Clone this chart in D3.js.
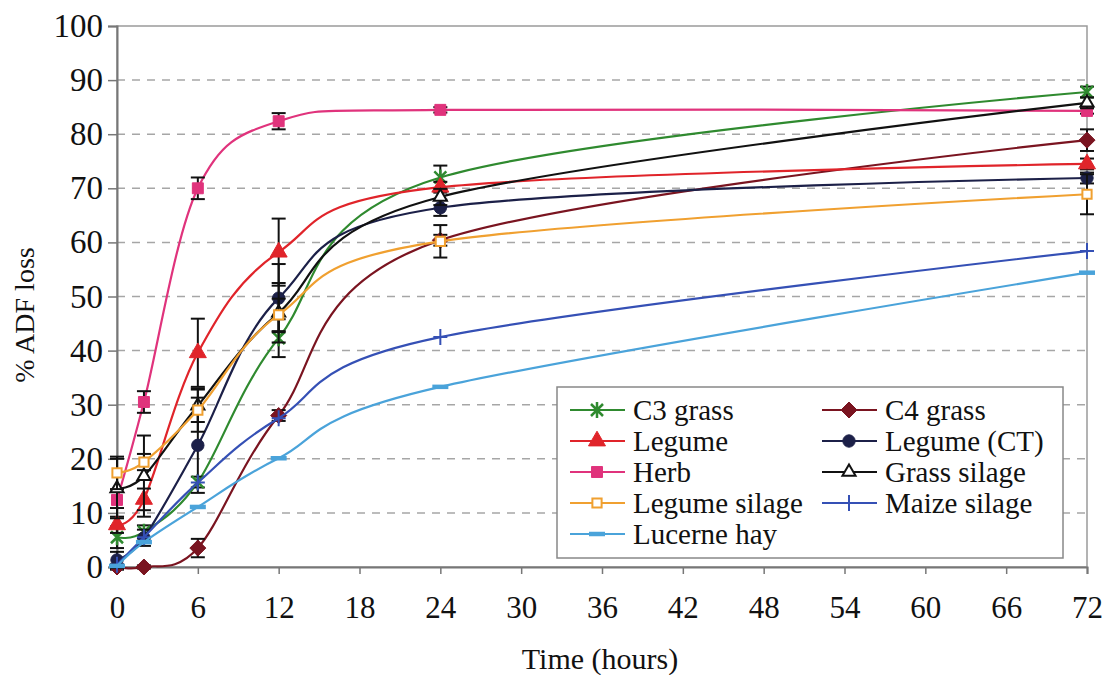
<!DOCTYPE html>
<html>
<head>
<meta charset="utf-8">
<script src="https://d3js.org/d3.v7.min.js"></script>
<style>
  body { margin: 0; background: #fff; }
  text { font-family: "Liberation Serif", "Times New Roman", serif; fill: #111; }
</style>
</head>
<body>
<svg id="chart" width="1105" height="675"></svg>
<script>
// sampling times (hours) and axis ticks
var times = [0, 2, 6, 12, 24, 72];
var xTicks = [0, 6, 12, 18, 24, 30, 36, 42, 48, 54, 60, 66, 72];
var yTicks = [0, 10, 20, 30, 40, 50, 60, 70, 80, 90, 100];

// series values (% ADF loss)
var c3Grass      = [5.5, 6.5, 15.7, 42.3, 72.0, 87.8];
var c4Grass      = [0.0, 0.0, 3.5, 28.0, 60.4, 78.9];
var legume       = [7.8, 12.5, 39.6, 58.2, 70.2, 74.5];
var legumeCT     = [1.3, 5.4, 22.5, 49.7, 66.4, 71.9];
var herb         = [12.4, 30.5, 70.0, 82.4, 84.5, 84.3];
var grassSilage  = [14.5, 16.8, 29.8, 47.0, 68.4, 85.8];
var legumeSilage = [17.4, 19.4, 29.0, 46.6, 60.2, 68.9];
var maizeSilage  = [0.4, 5.5, 15.6, 27.5, 42.5, 58.4];
var lucerneHay   = [0.2, 4.6, 11.1, 20.1, 33.3, 54.4];

// error bar half-widths
var c3GrassErr      = [2.0, 1.2, 1.0, 3.5, 2.2, 1.0];
var c4GrassErr      = [0.5, 0.3, 1.7, 1.0, 1.0, 2.0];
var legumeErr       = [1.5, 2.0, 6.3, 6.2, 1.0, 1.0];
var legumeCTErr     = [1.5, 1.5, 8.8, 6.3, 1.5, 1.0];
var herbErr         = [1.5, 2.0, 2.0, 1.5, 0.5, 0.5];
var grassSilageErr  = [5.5, 7.5, 3.0, 5.5, 1.5, 1.0];
var legumeSilageErr = [3.0, 1.5, 4.0, 3.0, 3.0, 3.7];
var maizeSilageErr  = [0, 0, 0, 0, 0, 0];
var lucerneHayErr   = [0, 0, 0, 0, 0, 0];

var seriesNames = ["C3 grass", "C4 grass", "Legume", "Legume (CT)", "Herb",
                   "Grass silage", "Legume silage", "Maize silage", "Lucerne hay"];

// table built from the arrays above
var series = [
  {name: seriesNames[0], values: c3Grass, err: c3GrassErr, color: "#2f8a2f", marker: "star"},
  {name: seriesNames[1], values: c4Grass, err: c4GrassErr, color: "#7a1420", marker: "diamond"},
  {name: seriesNames[2], values: legume, err: legumeErr, color: "#e0242a", marker: "triangle"},
  {name: seriesNames[3], values: legumeCT, err: legumeCTErr, color: "#1c2048", marker: "circle"},
  {name: seriesNames[4], values: herb, err: herbErr, color: "#e0337c", marker: "square"},
  {name: seriesNames[5], values: grassSilage, err: grassSilageErr, color: "#111111", marker: "triangleOpen"},
  {name: seriesNames[6], values: legumeSilage, err: legumeSilageErr, color: "#f0a030", marker: "squareOpen"},
  {name: seriesNames[7], values: maizeSilage, err: maizeSilageErr, color: "#3550b5", marker: "plus"},
  {name: seriesNames[8], values: lucerneHay, err: lucerneHayErr, color: "#4aa3da", marker: "dash"}
];

var plotLeft = 117, plotRight = 1087, plotTop = 26, plotBottom = 567;
var x = d3.scaleLinear().domain([0, 72]).range([plotLeft, plotRight]);
var y = d3.scaleLinear().domain([0, 100]).range([plotBottom, plotTop]);

var svg = d3.select("#chart");

// plot area frame
svg.append("rect")
  .attr("x", plotLeft).attr("y", plotTop)
  .attr("width", plotRight - plotLeft).attr("height", plotBottom - plotTop)
  .attr("fill", "none").attr("stroke", "#9a9a9a").attr("stroke-width", 1.5);

// dashed gridlines
svg.append("g").selectAll("line")
  .data(yTicks.filter(function(d) { return d > 0 && d < 100; }))
  .enter().append("line")
    .attr("x1", plotLeft).attr("x2", plotRight)
    .attr("y1", function(d) { return y(d); })
    .attr("y2", function(d) { return y(d); })
    .attr("stroke", "#a6a6a6").attr("stroke-width", 1.5)
    .attr("stroke-dasharray", "8,7");

// y axis
var yAxis = svg.append("g")
  .attr("transform", "translate(" + plotLeft + ",0)")
  .call(d3.axisLeft(y).tickValues(yTicks).tickSize(9).tickPadding(5));
yAxis.selectAll("text").style("font-size", "33px").style("font-family", "Liberation Serif");

// x axis
var xAxis = svg.append("g")
  .attr("transform", "translate(0," + plotBottom + ")")
  .call(d3.axisBottom(x).tickValues(xTicks).tickSize(7).tickPadding(22));
xAxis.selectAll("text").style("font-size", "31px").style("font-family", "Liberation Serif");

svg.selectAll(".domain").attr("stroke", "#777").attr("stroke-width", 2);
svg.selectAll(".tick line").attr("stroke", "#777").attr("stroke-width", 1.5);

// axis titles
svg.append("text")
  .attr("x", 600).attr("y", 669)
  .attr("text-anchor", "middle")
  .style("font-size", "30px")
  .text("Time (hours)");

svg.append("text")
  .attr("transform", "translate(34,315) rotate(-90)")
  .attr("text-anchor", "middle")
  .style("font-size", "28px")
  .text("% ADF loss");

// marker helper
function drawMarker(g, type, color) {
  if (type == "star") {
    g.append("path").attr("d", "M-6,-6L6,6M-6,6L6,-6M0,-8L0,8")
      .attr("stroke", color).attr("stroke-width", 2.5).attr("fill", "none");
  } else if (type == "plus") {
    g.append("path").attr("d", "M-7,0L7,0M0,-8L0,8")
      .attr("stroke", color).attr("stroke-width", 2).attr("fill", "none");
  } else if (type == "dash") {
    g.append("path").attr("d", "M-8,0L8,0")
      .attr("stroke", color).attr("stroke-width", 4.5).attr("fill", "none");
  } else if (type == "diamond") {
    g.append("path").attr("d", "M0,-8L8,0L0,8L-8,0Z")
      .attr("fill", color).attr("stroke", color).attr("stroke-width", 1);
  } else if (type == "triangleOpen") {
    g.append("path").attr("d", d3.symbol().type(d3.symbolTriangle).size(75)())
      .attr("fill", "#fff").attr("stroke", color).attr("stroke-width", 2);
  } else if (type == "squareOpen") {
    g.append("path").attr("d", d3.symbol().type(d3.symbolSquare).size(85)())
      .attr("fill", "#fff").attr("stroke", color).attr("stroke-width", 2);
  } else {
    var sym = {triangle: d3.symbolTriangle, circle: d3.symbolCircle, square: d3.symbolSquare}[type];
    var size = type == "triangle" ? 125 : 120;
    g.append("path").attr("d", d3.symbol().type(sym).size(size)())
      .attr("fill", color).attr("stroke", color).attr("stroke-width", 1);
  }
}

// smoothed lines like the spreadsheet
var line = d3.line()
  .x(function(d) { return x(d.t); })
  .y(function(d) { return y(d.v); })
  .curve(d3.curveCardinal.tension(0));

series.forEach(function(s) {
  var pts = times.map(function(t, i) { return {t: t, v: s.values[i], e: s.err[i]}; });
  var g = svg.append("g");

  g.append("path")
    .datum(pts)
    .attr("d", line)
    .attr("fill", "none")
    .attr("stroke", s.color)
    .attr("stroke-width", 2.2);

  // error bars
  pts.filter(function(d) { return d.e > 0; }).forEach(function(d) {
    var px = x(d.t);
    var eb = g.append("g").attr("stroke", "#111").attr("stroke-width", 2);
    eb.append("line").attr("x1", px).attr("x2", px)
      .attr("y1", y(d.v - d.e)).attr("y2", y(d.v + d.e));
    eb.append("line").attr("x1", px - 7).attr("x2", px + 7)
      .attr("y1", y(d.v - d.e)).attr("y2", y(d.v - d.e));
    eb.append("line").attr("x1", px - 7).attr("x2", px + 7)
      .attr("y1", y(d.v + d.e)).attr("y2", y(d.v + d.e));
  });

  pts.forEach(function(d) {
    var m = g.append("g").attr("transform", "translate(" + x(d.t) + "," + y(d.v) + ")");
    drawMarker(m, s.marker, s.color);
  });
});

// legend
var legend = svg.append("g");
legend.append("rect")
  .attr("x", 557).attr("y", 387).attr("width", 506).attr("height", 171)
  .attr("fill", "#fff").attr("stroke", "#888").attr("stroke-width", 1.5);

series.forEach(function(s, i) {
  var col = i % 2, row = Math.floor(i / 2);
  var lx = col == 0 ? 570 : 822;
  var ly = 410 + row * 31;
  var item = legend.append("g");
  item.append("line")
    .attr("x1", lx).attr("x2", lx + 55)
    .attr("y1", ly).attr("y2", ly)
    .attr("stroke", s.color).attr("stroke-width", 2.2);
  var m = item.append("g").attr("transform", "translate(" + (lx + 27) + "," + ly + ")");
  drawMarker(m, s.marker, s.color);
  item.append("text")
    .attr("x", lx + 63).attr("y", ly)
    .attr("dy", "0.33em")
    .style("font-size", "29px")
    .text(s.name);
});
</script>
</body>
</html>
